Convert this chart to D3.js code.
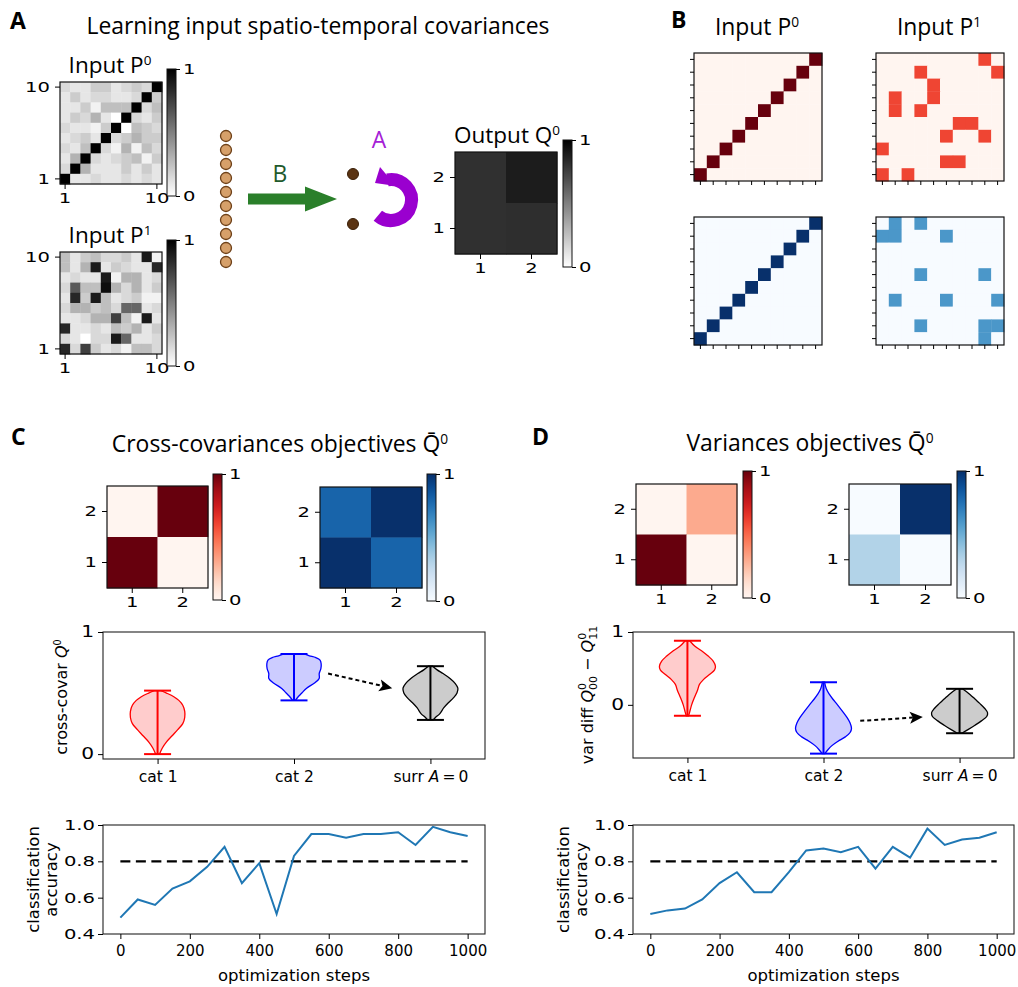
<!DOCTYPE html>
<html><head><meta charset="utf-8">
<script src="https://cdn.jsdelivr.net/npm/d3@7"></script>
<style>body{margin:0;background:#fff}svg{display:block}</style>
</head><body>
<svg id="fig" width="1018" height="987"></svg>
<script>
// ===================== DATA =====================
// Panel A input covariance matrices (rows listed top -> bottom, i.e. row 10 first)
const inputP0Grey = [
 [0.15,0.10,0.10,0.20,0.20,0.10,0.15,0.20,0.15,1.00],
 [0.10,0.20,0.10,0.15,0.15,0.10,0.10,0.15,1.00,0.20],
 [0.10,0.10,0.20,0.05,0.25,0.25,0.25,1.00,0.15,0.25],
 [0.10,0.20,0.15,0.30,0.10,0.00,1.00,0.15,0.10,0.20],
 [0.15,0.10,0.10,0.05,0.20,1.00,0.00,0.25,0.20,0.15],
 [0.10,0.15,0.20,0.10,1.00,0.15,0.20,0.30,0.20,0.20],
 [0.15,0.10,0.25,1.00,0.15,0.05,0.30,0.05,0.25,0.15],
 [0.10,0.30,1.00,0.15,0.10,0.15,0.20,0.25,0.05,0.20],
 [0.15,1.00,0.30,0.10,0.10,0.10,0.20,0.10,0.20,0.10],
 [1.00,0.10,0.10,0.15,0.10,0.10,0.15,0.10,0.15,0.10]
];
const inputP1Grey = [
 [0.25,0.10,0.20,0.25,0.15,0.15,0.20,0.10,0.90,0.05],
 [0.25,0.10,0.30,0.90,0.10,0.20,0.15,0.10,0.10,0.85],
 [0.10,0.15,0.10,0.10,0.90,0.05,0.30,0.30,0.10,0.15],
 [0.15,0.65,0.25,0.25,0.95,0.30,0.15,0.30,0.10,0.20],
 [0.10,0.85,0.20,0.90,0.25,0.10,0.15,0.20,0.05,0.05],
 [0.15,0.30,0.30,0.20,0.25,0.15,0.60,0.60,0.10,0.15],
 [0.10,0.10,0.15,0.30,0.30,0.75,0.25,0.05,0.90,0.10],
 [0.85,0.10,0.10,0.15,0.10,0.25,0.20,0.30,0.10,0.20],
 [0.15,0.10,0.00,0.15,0.15,0.90,0.60,0.10,0.10,0.15],
 [0.85,0.15,0.75,0.20,0.10,0.15,0.05,0.25,0.25,0.15]
];
const outputQ0Grey = [[0.81,0.89],[0.81,0.82]];
const axisLabels10 = ["1","2","3","4","5","6","7","8","9","10"];
const axisLabels2 = ["1","2"];
const cbarTicks = [0, 1];

// Panel B category matrices (digits = tenths, X = 1.0; rows top -> bottom)
const catP0Reds = ["000000000X","00000000X0","0000000X00","000000X000","00000X0000","0000X00000","000X000000","00X0000000","0X00000000","X000000000"];
const catP1Reds = ["0000000060","0006000006","0000600000","0600600000","0606000000","0000006600","0000060060","6000000000","0000066000","6060000000"];
const catP0Blues = catP0Reds.slice();
const catP1Blues = ["0606000000","6600060000","0000000000","0000000000","0006000060","0000000000","0600060006","0000000000","0006000066","0000000060"];

// Panel C/D objective matrices (rows: 2 then 1)
const crossObjReds = [[0,1],[1,0]];
const crossObjBlues = [[0.8,1],[1,0.8]];
const varObjReds = [[0,0.3],[1,0]];
const varObjBlues = [[0,1],[0.31,0]];

// Violin profiles: [value, relative density]
const violinCategories = ["cat 1","cat 2","surr A = 0"];
const crossCat1 = [[0.0,0.07],[0.05,0.17],[0.1,0.32],[0.15,0.52],[0.2,0.72],[0.25,0.9],[0.3,0.97],[0.35,0.97],[0.4,0.9],[0.44,0.76],[0.47,0.58],[0.5,0.32],[0.52,0.12]];
const crossCat2 = [[0.44,0.05],[0.47,0.15],[0.5,0.28],[0.54,0.45],[0.58,0.72],[0.62,0.9],[0.66,0.9],[0.7,0.96],[0.74,0.97],[0.77,0.93],[0.79,0.78],[0.805,0.55],[0.82,0.35]];
const crossSurr = [[0.28,0.1],[0.3,0.18],[0.33,0.33],[0.38,0.48],[0.42,0.64],[0.46,0.82],[0.5,0.95],[0.54,0.98],[0.58,0.88],[0.62,0.7],[0.66,0.45],[0.69,0.24],[0.72,0.08]];
const varCat1 = [[-0.15,0.04],[-0.1,0.08],[0.0,0.15],[0.1,0.25],[0.2,0.36],[0.28,0.43],[0.35,0.58],[0.42,0.8],[0.48,0.97],[0.53,1.0],[0.6,0.92],[0.67,0.74],[0.73,0.55],[0.8,0.28],[0.88,0.08]];
const varCat2 = [[-0.67,0.05],[-0.62,0.15],[-0.56,0.3],[-0.5,0.52],[-0.44,0.78],[-0.38,0.95],[-0.32,1.0],[-0.25,0.95],[-0.18,0.85],[-0.1,0.7],[0.0,0.5],[0.08,0.33],[0.15,0.2],[0.22,0.1],[0.31,0.04]];
const varSurr = [[-0.39,0.08],[-0.34,0.3],[-0.28,0.55],[-0.22,0.78],[-0.16,0.97],[-0.11,1.0],[-0.05,0.9],[0.02,0.72],[0.08,0.55],[0.14,0.38],[0.18,0.25],[0.22,0.1]];
const crossArrow = [[2.25,0.66],[2.72,0.54]];
const varArrow = [[2.27,-0.22],[2.73,-0.167]];
const crossYTicks = [0, 1];
const varYTicks = [0, 1];

// Classification accuracy vs optimization steps
const steps = [0,50,100,150,200,250,300,350,400,450,500,550,600,650,700,750,800,850,900,950,1000];
const crossAccuracy = [0.49,0.59,0.56,0.65,0.69,0.77,0.88,0.68,0.79,0.51,0.83,0.95,0.95,0.93,0.95,0.95,0.96,0.89,0.99,0.96,0.94];
const varAccuracy = [0.51,0.53,0.54,0.59,0.68,0.74,0.63,0.63,0.74,0.86,0.87,0.85,0.88,0.76,0.88,0.82,0.98,0.89,0.92,0.93,0.96];
const threshold = 0.8;
const accYTicks = [0.4,0.6,0.8,1.0];
const stepTicks = [0,200,400,600,800,1000];

// ===================== DRAWING =====================
const svg = d3.select('#fig');
const defs = svg.append('defs');
const TF = "'DejaVu Sans', sans-serif";
const HF = "'Open Sans', sans-serif";
const TS = 22.9; // title size
const WIDE = 1.35; // horizontal stretch of the (wide-looking) tick labels
const grayR = d3.interpolateRgb('#ffffff', '#000000');

function parseMat(rows){ return rows.map(s => s.split('').map(ch => ch === 'X' ? 1 : (+ch)/10)); }

function styleAxis(g, size, stretch){
  g.select('.domain').remove();
  g.selectAll('.tick line').attr('stroke','#000').attr('stroke-width',1);
  const tx = g.selectAll('.tick text').attr('fill','#000').attr('font-family',TF).attr('font-size',size);
  if (stretch) tx.each(function(){
    const x = +(d3.select(this).attr('x') || 0);
    d3.select(this).attr('transform',`translate(${x},0) scale(${stretch},1) translate(${-x},0)`);
  });
}

function richText(x, y, parts, o){
  const t = svg.append('text').attr('x',x).attr('y',y)
    .attr('font-family',o.font).attr('font-size',o.size).attr('text-anchor',o.anchor||'middle')
    .attr('fill',o.fill||'#000');
  if (o.rotate) t.attr('transform',`rotate(${o.rotate},${x},${y})`);
  parts.forEach(p => {
    const ts = t.append('tspan').text(p.t);
    if (p.it) ts.attr('font-style','italic');
    if (p.fs) ts.attr('font-size',p.fs);
    if (p.dy !== undefined) ts.attr('dy',p.dy);
    if (p.dx !== undefined) ts.attr('dx',p.dx);
  });
  return t;
}

function heatmap(o){
  const nR = o.data.length, nC = o.data[0].length;
  const xs = d3.scaleBand().domain(d3.range(nC)).range([o.x, o.x+o.w]);
  const ys = d3.scaleBand().domain(d3.range(nR)).range([o.y, o.y+o.h]);
  const g = svg.append('g');
  const cells = [];
  o.data.forEach((row,r) => row.forEach((v,c) => cells.push({r,c,v})));
  g.selectAll('rect.cell').data(cells).join('rect').attr('class','cell')
    .attr('x',d=>xs(d.c)).attr('y',d=>ys(d.r))
    .attr('width',xs.bandwidth()+0.4).attr('height',ys.bandwidth()+0.4)
    .attr('fill',d=>o.interp(d.v));
  g.append('rect').attr('x',o.x).attr('y',o.y).attr('width',o.w).attr('height',o.h)
    .attr('fill','none').attr('stroke','#111').attr('stroke-width',1.2);
  const yAx = d3.axisLeft(ys).tickValues(o.yIdx).tickSize(o.tick).tickSizeOuter(0).tickPadding(5)
    .tickFormat(i => o.labels ? o.labels[nR-1-i] : '');
  const gy = g.append('g').attr('transform',`translate(${o.x},0)`).call(yAx);
  styleAxis(gy, o.fs, WIDE);
  const xAx = d3.axisBottom(xs).tickValues(o.xIdx).tickSize(o.tick).tickSizeOuter(0).tickPadding(4)
    .tickFormat(i => o.labels ? o.labels[i] : '');
  const gx = g.append('g').attr('transform',`translate(0,${o.y+o.h})`).call(xAx);
  styleAxis(gx, o.fs, WIDE);
}

let gradId = 0;
function colorbar(x, y, w, h, interp){
  const id = 'cb' + (gradId++);
  const grad = defs.append('linearGradient').attr('id',id).attr('x1',0).attr('y1',1).attr('x2',0).attr('y2',0);
  d3.range(0, 1.0001, 0.05).forEach(t => grad.append('stop').attr('offset',t).attr('stop-color',interp(t)));
  svg.append('rect').attr('x',x).attr('y',y).attr('width',w).attr('height',h)
    .attr('fill',`url(#${id})`).attr('stroke','#111').attr('stroke-width',1);
  const s = d3.scaleLinear([0,1],[y+h,y]);
  const g = svg.append('g').attr('transform',`translate(${x+w},0)`)
    .call(d3.axisRight(s).tickValues(cbarTicks).tickFormat(d3.format('d')).tickSize(4).tickSizeOuter(0).tickPadding(3));
  styleAxis(g, 14.5, WIDE);
}

// ---------- Panel letters ----------
[['A',10,29],['B',671,28],['C',11,445],['D',532,445]].forEach(([t,x,y]) =>
  svg.append('text').attr('x',x).attr('y',y).text(t).attr('font-family',HF).attr('font-weight','bold').attr('font-size',23));

// ---------- Panel A ----------
svg.append('text').attr('x',318).attr('y',34).attr('text-anchor','middle').attr('font-family',HF).attr('font-size',TS)
  .text('Learning input spatio-temporal covariances');
const sup = t => ({t, fs:'60%', dy:'-0.6em'});
richText(110,73,[{t:'Input P'},sup('0')],{font:HF,size:22.5});
richText(110,243,[{t:'Input P'},sup('1')],{font:HF,size:22.5});
richText(507,143,[{t:'Output Q'},sup('0')],{font:HF,size:22.5});

heatmap({data:inputP0Grey, x:60, y:82, w:102, h:102, interp:grayR, yIdx:[0,9], xIdx:[0,9], labels:axisLabels10, tick:5, fs:14.5});
colorbar(167, 69, 9, 127, grayR);
heatmap({data:inputP1Grey, x:60, y:252, w:102, h:102, interp:grayR, yIdx:[0,9], xIdx:[0,9], labels:axisLabels10, tick:5, fs:14.5});
colorbar(167, 240, 9, 126, grayR);
heatmap({data:outputQ0Grey, x:455, y:152, w:102, h:102, interp:grayR, yIdx:[0,1], xIdx:[0,1], labels:axisLabels2, tick:5, fs:14.5});
colorbar(563, 140, 9, 127, grayR);

// network schematic
const inputNeurons = d3.range(10);
const yN = d3.scalePoint().domain(inputNeurons).range([136,262]);
svg.selectAll('circle.inN').data(inputNeurons).join('circle').attr('class','inN')
  .attr('cx',226).attr('cy',d=>yN(d)).attr('r',5.5).attr('fill','#d6a06a').attr('stroke','#6e4119').attr('stroke-width',1.3);
const outputNeurons = [0,1];
const yO = d3.scalePoint().domain(outputNeurons).range([174,224]);
svg.selectAll('circle.outN').data(outputNeurons).join('circle').attr('class','outN')
  .attr('cx',353).attr('cy',d=>yO(d)).attr('r',5.5).attr('fill','#5a3312').attr('stroke','#3a1f08').attr('stroke-width',1);
// green arrow B
svg.append('path').attr('d','M248,193.5 L305,193.5 L305,186.5 L337,199 L305,211.5 L305,204.5 L248,204.5 Z').attr('fill','#2a7f2a');
svg.append('text').attr('x',280).attr('y',182).attr('text-anchor','middle').attr('font-family',HF).attr('font-size',TS).attr('fill','#1f5a2c').text('B');
// purple recurrent arrow A
(function(){
  const cx=391, cy=200, r=20.5;
  const a0 = 130*Math.PI/180, a1 = -100*Math.PI/180;
  const p0 = [cx + r*Math.cos(a0), cy + r*Math.sin(a0)];
  const p1 = [cx + r*Math.cos(a1), cy + r*Math.sin(a1)];
  svg.append('path').attr('d',`M${p0[0]},${p0[1]} A${r},${r} 0 1 0 ${p1[0]},${p1[1]}`)
    .attr('fill','none').attr('stroke','#9a00cf').attr('stroke-width',13);
  svg.append('path').attr('d',`M${cx-11},${cy-33} L${cx-16},${cy-17} L${cx+5},${cy-14} Z`).attr('fill','#9a00cf');
  svg.append('text').attr('x',379).attr('y',148).attr('text-anchor','middle').attr('font-family',HF).attr('font-size',TS).attr('fill','#a520d6').text('A');
})();

// ---------- Panel B ----------
richText(757,35,[{t:'Input P'},sup('0')],{font:HF,size:TS});
richText(939,35,[{t:'Input P'},sup('1')],{font:HF,size:TS});
const all10 = d3.range(10);
heatmap({data:parseMat(catP0Reds), x:694, y:53, w:128, h:128, interp:d3.interpolateReds, yIdx:all10, xIdx:all10, tick:4, fs:12});
heatmap({data:parseMat(catP1Reds), x:876, y:53, w:128, h:128, interp:d3.interpolateReds, yIdx:all10, xIdx:all10, tick:4, fs:12});
heatmap({data:parseMat(catP0Blues), x:694, y:217, w:128, h:128, interp:d3.interpolateBlues, yIdx:all10, xIdx:all10, tick:4, fs:12});
heatmap({data:parseMat(catP1Blues), x:876, y:217, w:128, h:128, interp:d3.interpolateBlues, yIdx:all10, xIdx:all10, tick:4, fs:12});

// ---------- Panel C / D heading + objective matrices ----------
richText(280,452,[{t:'Cross-covariances objectives Q\u0304'},sup('0')],{font:HF,size:TS});
richText(810,451,[{t:'Variances objectives Q\u0304'},sup('0')],{font:HF,size:TS});

heatmap({data:crossObjReds, x:107, y:486, w:101, h:102, interp:d3.interpolateReds, yIdx:[0,1], xIdx:[0,1], labels:axisLabels2, tick:5, fs:14.5});
colorbar(213, 474, 9, 126, d3.interpolateReds);
heatmap({data:crossObjBlues, x:320, y:487, w:102, h:101, interp:d3.interpolateBlues, yIdx:[0,1], xIdx:[0,1], labels:axisLabels2, tick:5, fs:14.5});
colorbar(427, 474, 9, 127, d3.interpolateBlues);
heatmap({data:varObjReds, x:636, y:484, w:101, h:101, interp:d3.interpolateReds, yIdx:[0,1], xIdx:[0,1], labels:axisLabels2, tick:5, fs:14.5});
colorbar(743, 471, 9, 127, d3.interpolateReds);
heatmap({data:varObjBlues, x:849, y:484, w:102, h:101, interp:d3.interpolateBlues, yIdx:[0,1], xIdx:[0,1], labels:axisLabels2, tick:5, fs:14.5});
colorbar(957, 471, 9, 127, d3.interpolateBlues);

// ---------- Violin panels ----------
function violinPanel(o){
  const xs = d3.scaleLinear([0.6,3.4],[o.x0,o.x1]);
  const ys = d3.scaleLinear(o.yDomain,[o.y1,o.y0]);
  const ws = d3.scaleLinear([0,1],[0,28]);
  const colors = [{line:'#ff0000',fill:'#ffcccc'},{line:'#0000ff',fill:'#ccccff'},{line:'#000000',fill:'#cccccc'}];
  o.violins.forEach((prof,i) => {
    const cx = xs(i+1), c = colors[i];
    const area = d3.area().y(d=>ys(d[0])).x0(d=>cx-ws(d[1])).x1(d=>cx+ws(d[1])).curve(d3.curveCatmullRom);
    svg.append('path').attr('d',area(prof)).attr('fill',c.fill).attr('stroke',c.line).attr('stroke-width',1.3);
    const vmin = prof[0][0], vmax = prof[prof.length-1][0];
    svg.append('line').attr('x1',cx).attr('x2',cx).attr('y1',ys(vmin)).attr('y2',ys(vmax)).attr('stroke',c.line).attr('stroke-width',2);
    [vmin,vmax].forEach(v => svg.append('line').attr('x1',cx-13.5).attr('x2',cx+13.5).attr('y1',ys(v)).attr('y2',ys(v)).attr('stroke',c.line).attr('stroke-width',2));
  });
  // dashed arrow
  const [a,b] = o.arrow;
  const P = [xs(a[0]),ys(a[1])], Q = [xs(b[0]),ys(b[1])];
  const dx = Q[0]-P[0], dy = Q[1]-P[1], L = Math.hypot(dx,dy), ux = dx/L, uy = dy/L;
  const hl = 13, hw = 6;
  const B = [Q[0]-ux*hl, Q[1]-uy*hl];
  svg.append('line').attr('x1',P[0]).attr('y1',P[1]).attr('x2',B[0]+ux*3).attr('y2',B[1]+uy*3)
    .attr('stroke','#000').attr('stroke-width',2).attr('stroke-dasharray','4,3');
  svg.append('path').attr('d',`M${Q[0]},${Q[1]} L${B[0]-uy*hw},${B[1]+ux*hw} L${B[0]+ux*3},${B[1]+uy*3} L${B[0]+uy*hw},${B[1]-ux*hw} Z`).attr('fill','#000');
  // frame + axes
  svg.append('rect').attr('x',o.x0).attr('y',o.y0).attr('width',o.x1-o.x0).attr('height',o.y1-o.y0)
    .attr('fill','none').attr('stroke','#222').attr('stroke-width',1.1);
  const gy = svg.append('g').attr('transform',`translate(${o.x0},0)`)
    .call(d3.axisLeft(ys).tickValues(o.yTicks).tickFormat(d3.format('d')).tickSize(5).tickSizeOuter(0).tickPadding(4));
  styleAxis(gy, 15, WIDE);
  const gx = svg.append('g').attr('transform',`translate(0,${o.y1})`)
    .call(d3.axisBottom(xs).tickValues([1,2,3]).tickFormat(i => violinCategories[i-1]).tickSize(5).tickSizeOuter(0).tickPadding(7));
  styleAxis(gx, 15.5);
  gx.selectAll('.tick text').filter(d => d === 3).each(function(){
    const t = d3.select(this); t.text('');
    t.append('tspan').text('surr ');
    t.append('tspan').text('A').attr('font-style','italic');
    t.append('tspan').text('\u2009=\u20090');
  });
}
violinPanel({x0:103,x1:485,y0:632,y1:759,yDomain:[-0.04,1],yTicks:crossYTicks,violins:[crossCat1,crossCat2,crossSurr],arrow:crossArrow});
violinPanel({x0:633,x1:1014,y0:632,y1:758,yDomain:[-0.73,1],yTicks:varYTicks,violins:[varCat1,varCat2,varSurr],arrow:varArrow});

richText(67,697,[{t:'cross-covar '},{t:'Q',it:true},sup('0')],{font:TF,size:16,rotate:-90});
richText(593,695,[{t:'var diff '},{t:'Q',it:true},{t:'0',fs:11,dy:-7},{t:'00',fs:11,dx:-7,dy:11},{t:' \u2212 ',dy:-4},{t:'Q',it:true},{t:'0',fs:11,dy:-7},{t:'11',fs:11,dx:-7,dy:11}],{font:TF,size:16,rotate:-90});

// ---------- Accuracy line panels ----------
function linePanel(o){
  const xs = d3.scaleLinear([-50,1050],[o.x0,o.x1]);
  const ys = d3.scaleLinear([0.4,1.0],[o.y1,o.y0]);
  svg.append('line').attr('x1',xs(0)).attr('x2',xs(1000)).attr('y1',ys(threshold)).attr('y2',ys(threshold))
    .attr('stroke','#000').attr('stroke-width',2.3).attr('stroke-dasharray','10,5.5');
  const line = d3.line().x((d,i)=>xs(steps[i])).y(d=>ys(d));
  svg.append('path').attr('d',line(o.acc)).attr('fill','none').attr('stroke','#1f77b4').attr('stroke-width',2);
  svg.append('rect').attr('x',o.x0).attr('y',o.y0).attr('width',o.x1-o.x0).attr('height',o.y1-o.y0)
    .attr('fill','none').attr('stroke','#222').attr('stroke-width',1.1);
  const gy = svg.append('g').attr('transform',`translate(${o.x0},0)`)
    .call(d3.axisLeft(ys).tickValues(accYTicks).tickFormat(d3.format('.1f')).tickSize(5).tickSizeOuter(0).tickPadding(3));
  styleAxis(gy, 14.5, WIDE);
  const gx = svg.append('g').attr('transform',`translate(0,${o.y1})`)
    .call(d3.axisBottom(xs).tickValues(stepTicks).tickFormat(d3.format('d')).tickSize(5).tickSizeOuter(0).tickPadding(6));
  styleAxis(gx, 15);
  svg.append('text').attr('x',(o.x0+o.x1)/2).attr('y',981).attr('text-anchor','middle')
    .attr('font-family',TF).attr('font-size',16.5).text('optimization steps');
  const cy = (o.y0+o.y1)/2;
  [['classification',o.lx],['accuracy',o.lx+18]].forEach(([t,x]) =>
    svg.append('text').attr('x',x).attr('y',cy).attr('text-anchor','middle').attr('dominant-baseline','central')
      .attr('transform',`rotate(-90,${x},${cy})`).attr('font-family',TF).attr('font-size',16.5).text(t));
}
linePanel({x0:103,x1:485,y0:825,y1:934,acc:crossAccuracy,lx:33});
linePanel({x0:633,x1:1014,y0:825,y1:934,acc:varAccuracy,lx:563});
</script>
</body></html>
